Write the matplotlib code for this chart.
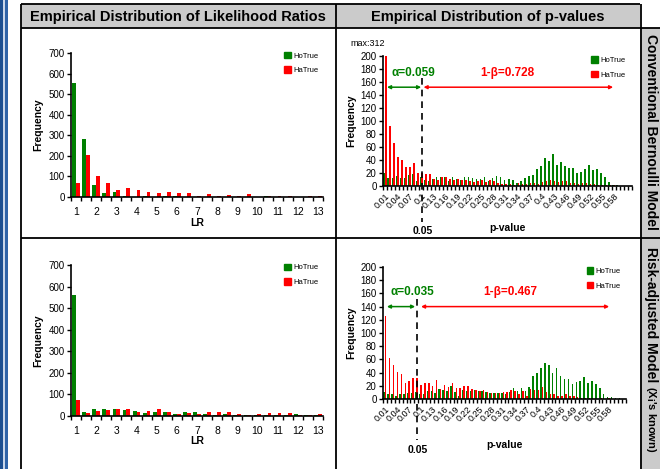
import matplotlib

matplotlib.use("Agg")
import matplotlib.pyplot as plt
from matplotlib.lines import Line2D
from matplotlib.patches import Patch, Rectangle
from matplotlib.transforms import blended_transform_factory
import numpy as np

plt.rcParams["font.family"] = ["Liberation Sans", "DejaVu Sans"]

GREEN = "#008000"
RED = "#ff0000"

# ---- likelihood ratio histograms (bins 1, 1.5, ..., 13) ----
LR_CATS = ["1", "1.5", "2", "2.5", "3", "3.5", "4", "4.5", "5", "5.5", "6", "6.5", "7",
           "7.5", "8", "8.5", "9", "9.5", "10", "10.5", "11", "11.5", "12", "12.5", "13"]
LR_TICKLABELS = ["1", "2", "3", "4", "5", "6", "7", "8", "9", "10", "11", "12", "13"]

LR_HO_CONV = [556, 284, 60, 21, 26, 6, 0, 6, 0, 6, 6, 0, 0,
              0, 0, 0, 0, 0, 0, 6, 0, 0, 0, 0, 0]
LR_HA_CONV = [70, 206, 104, 70, 36, 42, 36, 26, 21, 26, 21, 21, 6,
              16, 6, 11, 6, 16, 0, 6, 6, 6, 0, 6, 6]

LR_HO_RISK = [562, 17, 31, 31, 31, 26, 22, 12, 17, 17, 8, 17, 17,
              8, 3, 8, 3, 3, 3, 3, 3, 3, 8, 3, 3]
LR_HA_RISK = [73, 12, 22, 26, 31, 31, 17, 22, 31, 17, 8, 12, 8,
              17, 17, 17, 8, 3, 8, 12, 12, 12, 3, 3, 8]

# ---- p-value histograms (bins 0.01 ... 0.62) ----
P_NBINS = 62
P_TICKLABELS = ["0.01", "0.04", "0.07", "0.1", "0.13", "0.16", "0.19", "0.22", "0.25", "0.28",
                "0.31", "0.34", "0.37", "0.4", "0.43", "0.46", "0.49", "0.52", "0.55", "0.58"]

P_HO_CONV = [20, 13, 13, 16, 13, 13, 17, 19, 8, 14,
             9, 7, 10, 14, 14, 14, 7, 14, 10, 9,
             14, 14, 12, 11, 10, 14, 8, 12, 15, 14,
             9, 11, 9, 5, 8, 12, 15, 17, 26, 31,
             43, 38, 49, 32, 37, 31, 28, 28, 20, 22,
             26, 32, 25, 26, 20, 14, 6, 2, 2, 0,
             0, 0]
P_HA_CONV = [312, 92, 66, 45, 40, 29, 29, 35, 20, 20,
             19, 19, 11, 9, 14, 14, 10, 9, 10, 9,
             9, 8, 6, 8, 9, 6, 9, 8, 5, 3,
             3, 3, 2, 5, 3, 3, 4, 4, 3, 6,
             8, 9, 8, 6, 7, 7, 5, 4, 3, 4,
             4, 3, 3, 2, 2, 1, 1, 1, 0, 0,
             0, 0]

P_HO_RISK = [10, 8, 8, 4, 8, 8, 9, 9, 10, 8,
             8, 12, 12, 9, 15, 13, 12, 20, 10, 5,
             13, 12, 12, 13, 12, 12, 11, 9, 9, 9,
             9, 8, 10, 16, 12, 17, 12, 18, 35, 40,
             47, 54, 51, 40, 47, 35, 30, 31, 22, 26,
             28, 34, 24, 27, 22, 16, 8, 3, 3, 2,
             1, 0]
P_HA_RISK = [126, 62, 52, 41, 38, 24, 27, 32, 32, 21,
             25, 24, 20, 29, 15, 21, 18, 25, 17, 17,
             20, 20, 15, 13, 12, 13, 10, 9, 9, 9,
             10, 11, 13, 12, 8, 12, 4, 15, 14, 14,
             18, 10, 7, 7, 4, 4, 7, 4, 5, 3,
             1, 1, 1, 0, 0, 2, 0, 2, 0, 0,
             0, 0]

# annotation numbers for the p-value panels
ALPHA_CONV, POWER_CONV, MAX_CONV = 0.059, 0.728, 312
ALPHA_RISK, POWER_RISK = 0.035, 0.467

W, H = 660, 469


def px_rect(left, top, right, bottom):
    return [left / W, 1 - bottom / H, (right - left) / W, (bottom - top) / H]


def style_axes(ax):
    for side in ("top", "right"):
        ax.spines[side].set_visible(False)
    for side in ("left", "bottom"):
        ax.spines[side].set_linewidth(1.2)
        ax.spines[side].set_color("black")


def bars(ax, ho, ha, width=0.38):
    x = np.arange(len(ho))
    ax.bar(x - width / 2, ho, width=width, color=GREEN, label="HoTrue", linewidth=0)
    ax.bar(x + width / 2, ha, width=width, color=RED, label="HaTrue", linewidth=0)
    ax.set_xlim(-0.5, len(ho) - 0.5)
    ax.set_xticks(np.arange(len(ho) + 1) - 0.5, minor=True)
    ax.tick_params(axis="x", which="minor", length=3, width=1, direction="out")
    ax.tick_params(axis="y", length=3, width=1, direction="out", labelsize=7, pad=1.5)


def legend(ax, anchor):
    handles = [Patch(color=GREEN, label="HoTrue"), Patch(color=RED, label="HaTrue")]
    ax.legend(handles=handles, loc="upper left", bbox_to_anchor=anchor, frameon=False,
              fontsize=5.5, handlelength=0.9, handleheight=0.9, handletextpad=0.2,
              labelspacing=0.9, borderaxespad=0)


def lr_panel(rect, ho, ha, xlab_pad):
    ax = fig.add_axes(rect)
    bars(ax, ho, ha)
    style_axes(ax)
    ax.set_ylim(0, 700)
    ax.set_yticks(np.arange(0, 701, 100))
    ax.set_xticks(np.arange(len(LR_TICKLABELS)) * 2)
    ax.set_xticklabels(LR_TICKLABELS, fontsize=7.5)
    ax.tick_params(axis="x", which="major", length=0, pad=7)
    ax.set_xlabel("LR", fontsize=7.5, fontweight="bold", labelpad=xlab_pad)
    ax.set_ylabel("Frequency", fontsize=7.5, fontweight="bold", labelpad=4)
    legend(ax, (0.835, 1.03))
    return ax


def p_panel(rect, ho, ha, alpha, power, ann):
    ax = fig.add_axes(rect)
    bars(ax, ho, ha)
    style_axes(ax)
    ax.set_ylim(0, 200)
    ax.set_yticks(np.arange(0, 201, 20))
    ax.set_xticks(np.arange(len(P_TICKLABELS)) * 3)
    ax.set_xticklabels(P_TICKLABELS, fontsize=6.5, rotation=45, ha="right", va="top",
                       rotation_mode="anchor")
    ax.tick_params(axis="x", which="major", length=0, pad=4)
    ax.set_xlabel("p-value", fontsize=7.5, fontweight="bold", labelpad=ann["xlab_pad"])
    ax.set_ylabel("Frequency", fontsize=7.5, fontweight="bold", labelpad=3)
    legend(ax, (0.825, 1.02))

    # cut-off line at 0.05
    tr = blended_transform_factory(ax.transData, ax.transAxes)
    cx = ann["cut_x"]
    ax.plot([cx, cx], ann["cut_y"], transform=tr, color="black", linestyle=(0, (4, 3)),
            linewidth=1.2, clip_on=False)
    ax.text(cx, ann["cut_label_y"], "0.05", transform=tr, fontsize=7.5, fontweight="bold",
            ha="center", va="center")

    y = ann["arrow_y"]
    ax.annotate("", xy=(ann["green"][0], y), xytext=(ann["green"][1], y),
                arrowprops=dict(arrowstyle="<|-|>", color=GREEN, lw=1.1,
                                mutation_scale=5, shrinkA=0, shrinkB=0))
    ax.annotate("", xy=(ann["red"][0], y), xytext=(ann["red"][1], y),
                arrowprops=dict(arrowstyle="<|-|>", color=RED, lw=1.1,
                                mutation_scale=5, shrinkA=0, shrinkB=0))
    ty = ann["text_y"]
    ax.text(ann["alpha_x"], ty, f"\u03b1={alpha:.3f}", color=GREEN, fontsize=8.5,
            fontweight="bold", ha="center", va="center")
    ax.text(ann["power_x"], ty, f"1-\u03b2={power:.3f}", color=RED, fontsize=8.5,
            fontweight="bold", ha="center", va="center")
    return ax


fig = plt.figure(figsize=(W / 100, H / 100), dpi=100)


def fig_line(x0, y0, x1, y1, lw=1.3, color="black"):
    fig.add_artist(Line2D([x0 / W, x1 / W], [1 - y0 / H, 1 - y1 / H], color=color,
                          linewidth=lw, solid_capstyle="butt"))


def fig_box(left, top, right, bottom, color):
    fig.add_artist(Rectangle((left / W, 1 - bottom / H), (right - left) / W,
                             (bottom - top) / H, facecolor=color, edgecolor="none",
                             zorder=0))


# table background pieces
fig_box(0, 0, 3, H, "#1d4f91")
fig_box(3, 0, 5, H, "#c9d6ea")
fig_box(5, 0, 8, H, "#2f63a8")
fig_box(21, 4, 640, 28, "#cbcbcb")
fig_box(640, 28, 660, H, "#cbcbcb")

fig_line(21, 4, 640, 4)
fig_line(21, 28, 660, 28)
fig_line(21, 237.5, 660, 237.5)
fig_line(21, 4, 21, H)
fig_line(335.5, 4, 335.5, H)
fig_line(640.5, 4, 640.5, H)

fig.text(178 / W, 1 - 16.5 / H, "Empirical Distribution of Likelihood Ratios",
         fontsize=10.5, fontweight="bold", ha="center", va="center")
fig.text(488 / W, 1 - 16.5 / H, "Empirical Distribution of p-values",
         fontsize=10.5, fontweight="bold", ha="center", va="center")
fig.text(651 / W, 1 - 132 / H, "Conventional Bernoulli Model", fontsize=10,
         fontweight="bold", rotation=-90, ha="center", va="center")
fig.text(651 / W, 1 - 247 / H, "Risk-adjusted Model", fontsize=10,
         fontweight="bold", rotation=-90, ha="center", va="top")
fig.text(651 / W, 1 - 386 / H, "(X$_\\mathbf{i}$'s known)", fontsize=8,
         fontweight="bold", rotation=-90, ha="center", va="top")

lr_panel(px_rect(71, 53, 323, 197), LR_HO_CONV, LR_HA_CONV, xlab_pad=1)
lr_panel(px_rect(71, 265, 323, 416), LR_HO_RISK, LR_HA_RISK, xlab_pad=0)

ax_tr = p_panel(px_rect(383, 56, 632, 186), P_HO_CONV, P_HA_CONV, ALPHA_CONV, POWER_CONV,
                dict(cut_x=9.3, cut_y=(0.83, -0.28), cut_label_y=-0.35, arrow_y=152,
                     green=(0.5, 9.0), red=(9.6, 56.8), text_y=174, alpha_x=7.0,
                     power_x=30.4, xlab_pad=9))
ax_tr.text(-4.2, 220, f"max:{MAX_CONV}", fontsize=6.5, ha="center", va="center",
           clip_on=False)
p_panel(px_rect(383, 267, 626, 399), P_HO_RISK, P_HA_RISK, ALPHA_RISK, POWER_RISK,
        dict(cut_x=8.25, cut_y=(0.76, -0.31), cut_label_y=-0.39, arrow_y=140,
             green=(0.5, 7.7), red=(9.2, 57.2), text_y=162, alpha_x=6.9,
             power_x=31.9, xlab_pad=12))

fig.savefig("out.png", dpi=100)
